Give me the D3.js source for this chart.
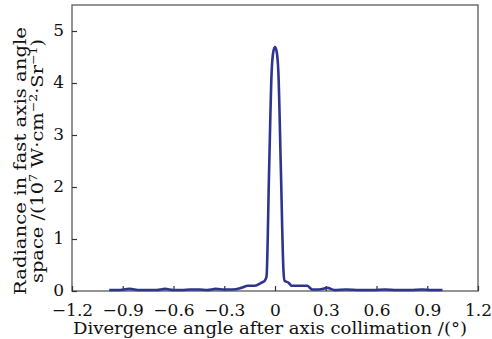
<!DOCTYPE html>
<html>
<head>
<meta charset="utf-8">
<script src="https://cdn.jsdelivr.net/npm/d3@7"></script>
<style>
  body { margin: 0; background: #fff; }
  text { font-family: "DejaVu Serif", "Liberation Serif", serif; fill: #111; }
</style>
</head>
<body>
<div id="chart"></div>
<script>
// divergence angle (deg) and radiance (10^7 W·cm^-2·Sr^-1)
const angles = [-0.98, -0.93, -0.86, -0.8, -0.75, -0.7, -0.65, -0.6, -0.55, -0.5, -0.45, -0.4,
  -0.35, -0.3, -0.25, -0.2, -0.16, -0.12, -0.08, -0.06, -0.05, -0.035, -0.02, -0.01, 0,
  0.01, 0.02, 0.035, 0.05, 0.056, 0.08, 0.1, 0.135, 0.19, 0.22, 0.26, 0.31, 0.35, 0.42,
  0.5, 0.58, 0.65, 0.72, 0.8, 0.87, 0.93, 0.99];
const radiance = [0.02, 0.02, 0.04, 0.02, 0.02, 0.02, 0.04, 0.02, 0.02, 0.03, 0.03, 0.02,
  0.04, 0.03, 0.03, 0.06, 0.1, 0.1, 0.16, 0.2, 0.28, 2.3, 4.2, 4.6, 4.69,
  4.6, 4.2, 2.3, 0.4, 0.2, 0.16, 0.1, 0.1, 0.1, 0.03, 0.03, 0.06, 0.02, 0.03,
  0.02, 0.02, 0.03, 0.02, 0.02, 0.03, 0.02, 0.02];
const xTicks = [-1.2, -0.9, -0.6, -0.3, 0, 0.3, 0.6, 0.9, 1.2];
const yTicks = [0, 1, 2, 3, 4, 5];

const width = 492, height = 339;
const margin = { top: 5, right: 14, bottom: 48, left: 72 };
const plotW = width - margin.left - margin.right;
const plotH = height - margin.top - margin.bottom;

const svg = d3.select("#chart").append("svg")
  .attr("width", width)
  .attr("height", height);

const chart = svg.append("g")
  .attr("transform", `translate(${margin.left},${margin.top})`);

const x = d3.scaleLinear().domain([-1.2, 1.2]).range([0, plotW]);
const y = d3.scaleLinear().domain([0, 5.5]).range([plotH, 0]);

const fmt = d => d === 0 ? "0" : (d < 0 ? "\u2212" : "") + Math.abs(d).toFixed(1);

// frame
chart.append("rect")
  .attr("width", plotW)
  .attr("height", plotH)
  .attr("fill", "none")
  .attr("stroke", "#666")
  .attr("stroke-width", 1.4);

// inward ticks
const xAxis = chart.append("g")
  .attr("transform", `translate(0,${plotH})`)
  .call(d3.axisBottom(x).tickValues(xTicks).tickSizeInner(-5).tickSizeOuter(0)
    .tickPadding(14).tickFormat(fmt));

const yAxis = chart.append("g")
  .call(d3.axisLeft(y).tickValues(yTicks).tickSizeInner(-5).tickSizeOuter(0)
    .tickPadding(8).tickFormat(d3.format("d")));

[xAxis, yAxis].forEach(g => {
  g.select(".domain").remove();
  g.selectAll(".tick line").attr("stroke", "#333").attr("stroke-width", 1.2);
  g.selectAll(".tick text")
    .style("font-family", "'DejaVu Serif', serif")
    .style("font-size", "17px")
    .attr("fill", "#111");
});
xAxis.selectAll(".tick text").attr("dy", "0.62em");
yAxis.selectAll(".tick text").attr("dy", "0.28em");

const line = d3.line()
  .x((d, i) => x(angles[i]))
  .y(d => y(d))
  .curve(d3.curveMonotoneX);

chart.append("path")
  .datum(radiance)
  .attr("fill", "none")
  .attr("stroke", "#2d3590")
  .attr("stroke-width", 2.6)
  .attr("stroke-linejoin", "round")
  .attr("d", line);

// x axis title
svg.append("text")
  .attr("x", margin.left + plotW / 2 - 5)
  .attr("y", 334)
  .attr("text-anchor", "middle")
  .style("font-size", "17px")
  .attr("textLength", 394)
  .attr("lengthAdjust", "spacingAndGlyphs")
  .text("Divergence angle after axis collimation /(\u00b0)");

// y axis title, two lines
const yt = svg.append("g")
  .attr("transform", "translate(0,161) rotate(-90)");

yt.append("text")
  .attr("x", 0)
  .attr("y", 26)
  .attr("text-anchor", "middle")
  .style("font-size", "17px")
  .attr("textLength", 268)
  .attr("lengthAdjust", "spacingAndGlyphs")
  .text("Radiance in fast axis angle");

const t2 = yt.append("text")
  .attr("x", 0)
  .attr("y", 43)
  .attr("text-anchor", "middle")
  .style("font-size", "17px")
  .attr("textLength", 244)
  .attr("lengthAdjust", "spacingAndGlyphs");

t2.append("tspan").text("space /(10");
t2.append("tspan").attr("dy", -6).style("font-size", "11px").text("7");
t2.append("tspan").attr("dy", 6).text(" W\u00b7cm");
t2.append("tspan").attr("dy", -6).style("font-size", "11px").text("\u22122");
t2.append("tspan").attr("dy", 6).text("\u00b7Sr");
t2.append("tspan").attr("dy", -6).style("font-size", "11px").text("\u22121");
t2.append("tspan").attr("dy", 6).text(")");
</script>
</body>
</html>
